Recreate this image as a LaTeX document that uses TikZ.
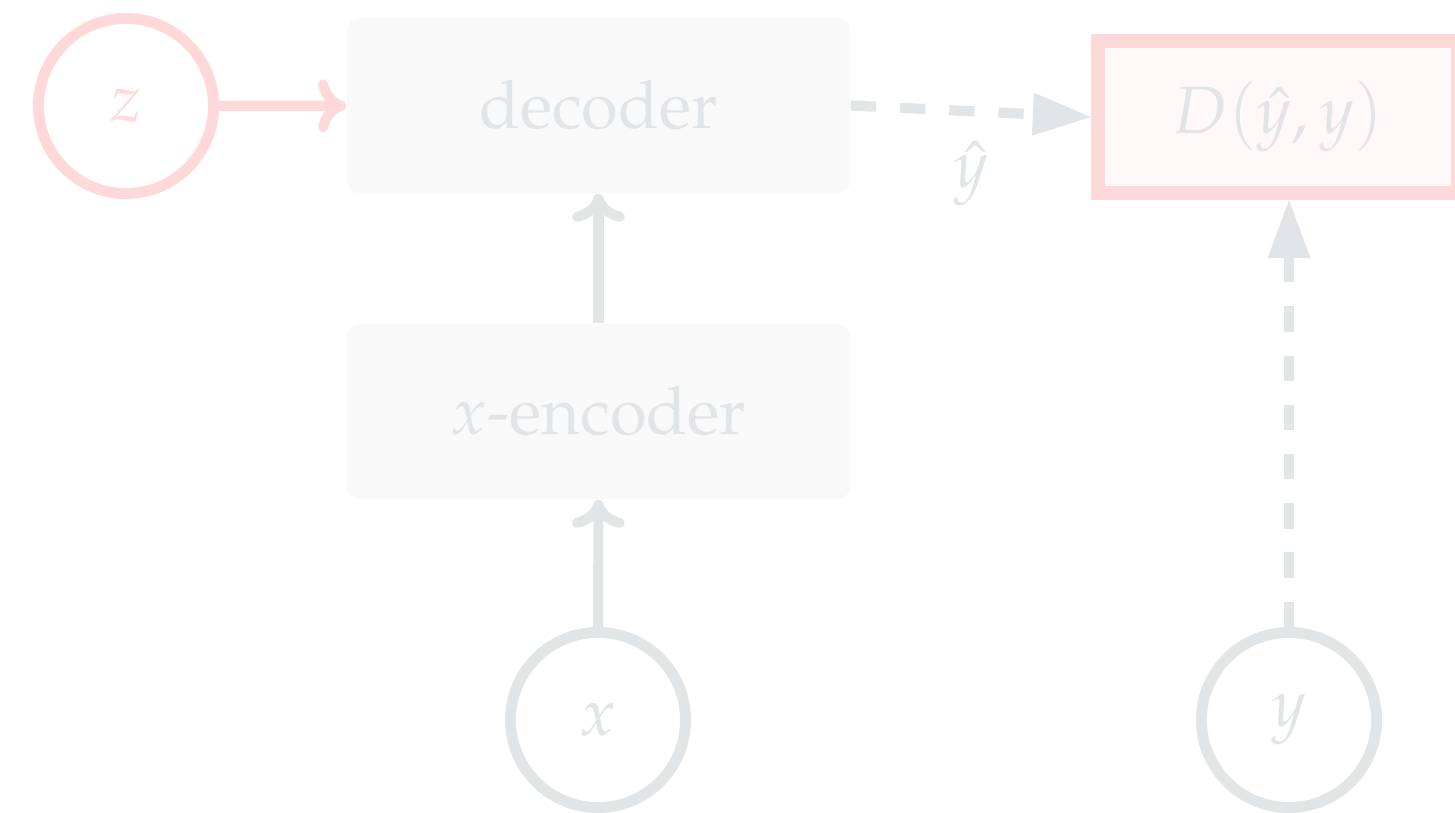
\documentclass[tikz,border=0pt]{standalone}
\usepackage[T1]{fontenc}
\usepackage{mathpazo}
\usetikzlibrary{arrows.meta}

\definecolor{latentpink}{RGB}{255,216,218}
\definecolor{softgray}{RGB}{226,229,232}
\definecolor{blockfill}{RGB}{249,249,249}
\definecolor{distfill}{RGB}{255,248,248}

\tikzset{
  latent/.style={circle, draw=latentpink, line width=3.1pt, text=latentpink, minimum size=1.75cm, inner sep=0pt},
  obs/.style={circle, draw=softgray, line width=3.1pt, text=softgray, minimum size=1.75cm, inner sep=0pt},
  block/.style={rectangle, rounded corners=3.7pt, fill=blockfill, text=softgray, minimum width=5.03cm, minimum height=1.75cm},
  dist/.style={rectangle, draw=latentpink, fill=distfill, line width=4pt, text=softgray, minimum width=3.6cm, minimum height=1.52cm},
  flow/.style={draw=softgray, line width=2.85pt, -{Computer Modern Rightarrow[length=8pt,width=15pt,round]}},
  dashflow/.style={draw=softgray, line width=2.9pt, dash pattern=on 7.2pt off 6.8pt, -{Triangle[length=16.5pt,width=12.2pt,line width=0pt]}}
}

\begin{document}
\begin{tikzpicture}[x=0.01cm, y=-0.01cm, font=\fontsize{19}{23}\selectfont]
    \path[fill=white, use as bounding box] (0,0) rectangle (1455,813);

    % latent and observed variables
    \node[latent] (z) at (126,106) {$z$};
    \node[obs] (x) at (598,720) {$x$};
    \node[obs] (y) at (1289,720) {$y$};

    % networks
    \node[block] (dec) at (598.5,105.5) {decoder};
    \node[block] (enc) at (598.5,411.5) {$x$-encoder};

    % distance between prediction and target
    \node[dist] (D) at (1278,117) {$D(\hat{y}, y)$};

    \draw[flow, draw=latentpink] (z) -- (dec);
    \draw[flow] (enc) -- (dec);
    \draw[flow] (x) -- (enc);

    \draw[dashflow] (dec.east) -- (D.west) node [pos=0.5, below=4pt, text=softgray] (yhat) {$\hat{y}$};
    \draw[dashflow] (y) -- (y |- D.south);

\end{tikzpicture}
\end{document}
